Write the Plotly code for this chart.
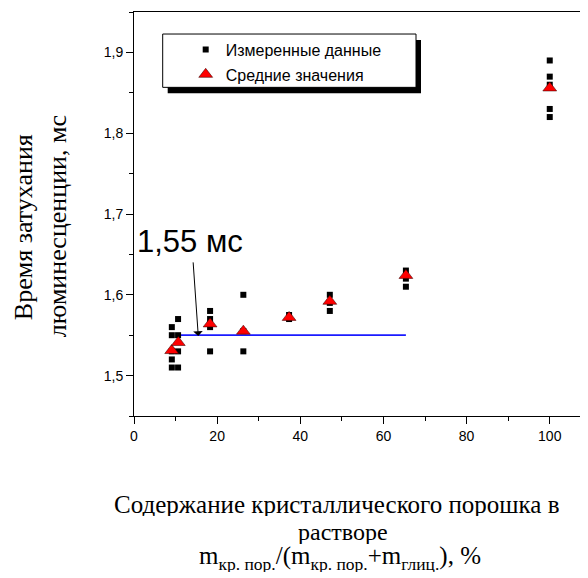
import plotly.graph_objects as go

# measured decay times (black squares)
meas_x = [9.1, 9.1, 9.1, 9.1, 9.1,
          10.6, 10.6, 10.6, 10.6,
          18.3, 18.3, 18.3, 18.3,
          26.3, 26.3, 26.3,
          37.3, 37.3,
          47.1, 47.1, 47.1,
          65.4, 65.4, 65.4,
          100, 100, 100, 100, 100]
meas_y = [1.51, 1.52, 1.53, 1.55, 1.56,
          1.51, 1.53, 1.55, 1.57,
          1.53, 1.56, 1.57, 1.58,
          1.53, 1.555, 1.60,
          1.57, 1.575,
          1.58, 1.59, 1.60,
          1.61, 1.62, 1.63,
          1.82, 1.83, 1.86, 1.87, 1.89]

# mean values (red triangles)
mean_x = [9.06, 10.65, 18.3, 26.3, 37.3, 47.1, 65.4, 100]
mean_y = [1.531, 1.541, 1.564, 1.555, 1.572, 1.592, 1.624, 1.856]

# 1,55 ms level
level_x = [10.3, 65.4]
level_y = [1.55, 1.55]

X_RANGE = [0, 109.2]
Y_RANGE = [1.45, 1.95]

# page has an 8px body margin, so the figure is a bit smaller than the window
OFF = 8
W, H = 588 - OFF, 578 - OFF
P_LEFT, P_RIGHT, P_TOP, P_BOT = 134, 588, 12, 415.7   # plot area, page pixels
PW, PH = P_RIGHT - P_LEFT, P_BOT - P_TOP


def px_x(p):
    return (p - P_LEFT) / PW


def px_y(p):
    return (P_BOT - p) / PH


SANS = "Liberation Sans, Arial, sans-serif"
SERIF = "Liberation Serif, Times New Roman, serif"

fig = go.Figure()

fig.add_trace(go.Scatter(
    x=level_x, y=level_y, mode="lines",
    line=dict(color="#1a1aff", width=1.8),
    showlegend=False, hoverinfo="skip",
))
fig.add_trace(go.Scatter(
    x=meas_x, y=meas_y, mode="markers",
    marker=dict(symbol="square", size=6, color="black"),
    name="Измеренные данные", legendgroup="a",
))
fig.add_trace(go.Scatter(
    x=mean_x, y=mean_y, mode="markers",
    marker=dict(symbol="triangle-up", size=12, color="#ff0000",
                line=dict(color="rgba(60,0,0,0.7)", width=0.8)),
    name="Средние значения", legendgroup="b",
))

axis_common = dict(
    showline=True, linecolor="black", linewidth=1,
    ticks="outside", ticklen=7, tickwidth=1, tickcolor="black",
    showgrid=False, zeroline=False,
    tickfont=dict(family=SANS, size=14, color="black"),
)
fig.update_xaxes(range=X_RANGE, dtick=20, tick0=0, mirror=True,
                 minor=dict(dtick=10, ticks="outside", ticklen=4, tickcolor="black"),
                 **axis_common)
fig.update_yaxes(range=Y_RANGE, dtick=0.1, tick0=1.5, tickformat=".1f",
                 minor=dict(dtick=0.05, ticks="outside", ticklen=4, tickcolor="black"),
                 **axis_common)

# legend frame with drop shadow
box = (162.7, 34, 416, 87.3)
shapes = [
    dict(type="rect", xref="paper", yref="paper",
         x0=px_x(box[0] + 5), x1=px_x(box[2] + 5),
         y0=px_y(box[3] + 6), y1=px_y(box[1] + 6),
         fillcolor="black", line=dict(width=0), layer="above"),
    dict(type="rect", xref="paper", yref="paper",
         x0=px_x(box[0]), x1=px_x(box[2]),
         y0=px_y(box[3]), y1=px_y(box[1]),
         fillcolor="white", line=dict(color="black", width=1), layer="above"),
]


def note(text, x, y, size, family=SERIF, angle=0, height=None):
    return dict(x=px_x(x), y=px_y(y), xref="paper", yref="paper",
                xanchor="center", yanchor="middle", text=text,
                textangle=angle, showarrow=False, height=height,
                font=dict(family=family, size=size, color="black"))


annotations = [
    dict(x=13.5, y=1.666, xref="x", yref="y", text="1,55 мс", showarrow=False,
         xanchor="center", yanchor="middle",
         font=dict(family=SANS, size=31, color="black")),
    dict(x=15.46, y=1.549, ax=14.2, ay=1.642, xref="x", yref="y",
         axref="x", ayref="y", text="", showarrow=True,
         arrowhead=1, arrowsize=1.6, arrowwidth=1, arrowcolor="black"),
    note("Время затухания", 23, 227, 26, angle=-90),
    note("люминесценции, мс", 57, 226, 26, angle=-90),
    note("Содержание кристаллического порошка в", 336, 504, 25, height=24),
    note("растворе", 343, 532, 24, height=24),
    note("m<sub>кр. пор.</sub>/(m<sub>кр. пор.</sub>+m<sub>глиц.</sub>), %", 340, 558, 25,
         height=28),
]

fig.update_layout(
    width=W, height=H,
    margin=dict(l=P_LEFT - OFF, r=0, t=P_TOP - OFF, b=H - (P_BOT - OFF)),
    paper_bgcolor="white", plot_bgcolor="white",
    separators=", ",
    shapes=shapes, annotations=annotations,
    legend=dict(x=px_x(185.7), y=px_y(32.6), xanchor="left", yanchor="top",
                bgcolor="rgba(0,0,0,0)", borderwidth=0,
                traceorder="grouped", tracegroupgap=1,
                font=dict(family=SANS, size=16, color="black")),
)

fig.write_html("out.html")
